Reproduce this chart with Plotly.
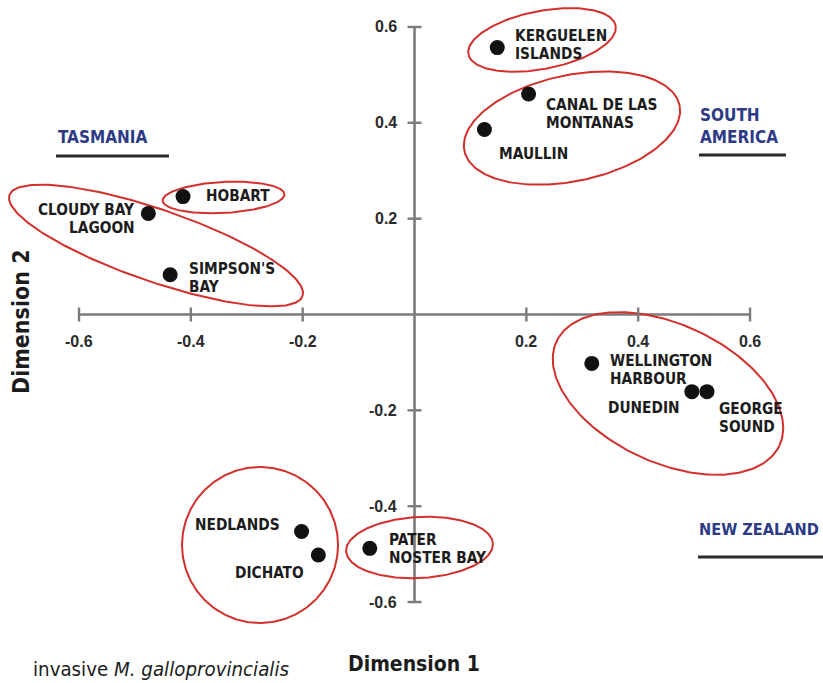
import numpy as np
import plotly.graph_objects as go

# --- MDS coordinates of the sampled mussel populations ---------------------
sites = ["KERGUELEN ISLANDS", "CANAL DE LAS MONTANAS", "MAULLIN", "HOBART",
         "CLOUDY BAY LAGOON", "SIMPSON'S BAY", "WELLINGTON HARBOUR", "DUNEDIN",
         "GEORGE SOUND", "NEDLANDS", "DICHATO", "PATER NOSTER BAY"]
dim1 = [0.148, 0.204, 0.125, -0.414, -0.476, -0.437, 0.317, 0.496, 0.523,
        -0.202, -0.172, -0.080]
dim2 = [0.557, 0.460, 0.386, 0.246, 0.211, 0.083, -0.102, -0.161, -0.161,
        -0.453, -0.502, -0.488]

# label text lines per site
label_lines = [["KERGUELEN", "ISLANDS"], ["CANAL DE LAS", "MONTANAS"], ["MAULLIN"],
               ["HOBART"], ["CLOUDY BAY", "LAGOON"], ["SIMPSON'S", "BAY"],
               ["WELLINGTON", "HARBOUR"], ["DUNEDIN"], ["GEORGE", "SOUND"],
               ["NEDLANDS"], ["DICHATO"], ["PATER", "NOSTER BAY"]]

ticks = [-0.6, -0.4, -0.2, 0.2, 0.4, 0.6]
tick_text = ["-0.6", "-0.4", "-0.2", "0.2", "0.4", "0.6"]

# --- figure geometry --------------------------------------------------------
W, H = 823, 683
XR = [-0.7413, 0.7305]
YR = [-0.769, 0.6563]
SX = W / (XR[1] - XR[0])   # px per data unit (x)
SY = H / (YR[1] - YR[0])   # px per data unit (y)

COND = "DejaVu Sans Condensed, Roboto, sans-serif"
LABEL_FONT = dict(family=COND, size=15.3, color="#1c1c1c")
LINE_H = 18
# label placement: (x offset px, anchor, first-line offset px downward)
label_place = [(16, "left", -12), (15, "left", 11), (13, "left", 24),
               (21, "left", -1), (-11, "right", -3), (17, "left", -6),
               (16, "left", -2), (-10, "right", 16), (10, "left", 17),
               (-20, "right", -7), (-12, "right", 18), (17, "left", -8)]

# group outlines: centre (data), semi-axes (px), rotation (deg, ccw)
groups = [
    (0.228, 0.573, 75, 29, 11),
    (0.2816, 0.389, 110, 53, 12),
    (-0.4623, 0.144, 155, 36, -19),
    (-0.3416, 0.2442, 61, 15.5, 3),
    (0.4533, -0.1648, 123, 69, -25),
    (-0.2763, -0.481, 78, 78, 0),
    (0.0089, -0.4862, 73.5, 30.5, 3),
]

AXIS_GREY = "#7b7b7b"
RED = "#d3302c"
NAVY = "#2d3a86"

fig = go.Figure()

# axes crossing at the origin
fig.add_trace(go.Scatter(x=[ticks[0], ticks[-1]], y=[0, 0], mode="lines",
                         line=dict(color=AXIS_GREY, width=2.6), hoverinfo="skip"))
fig.add_trace(go.Scatter(x=[0, 0], y=[ticks[0], ticks[-1]], mode="lines",
                         line=dict(color=AXIS_GREY, width=2.6), hoverinfo="skip"))
tl = 7
for t in ticks:
    fig.add_shape(type="line", x0=t, x1=t, y0=-tl / SY, y1=tl / SY,
                  line=dict(color=AXIS_GREY, width=2.4))
    fig.add_shape(type="line", x0=-tl / SX, x1=tl / SX, y0=t, y1=t,
                  line=dict(color=AXIS_GREY, width=2.4))

TICK_FONT = dict(family="Liberation Sans", size=16, color="#2a2a2a")
for t, s in zip(ticks, tick_text):
    fig.add_annotation(x=t, y=0, text="<b>%s</b>" % s, showarrow=False,
                       yshift=-27, xanchor="center", yanchor="middle", font=TICK_FONT)
    fig.add_annotation(x=0, y=t, text="<b>%s</b>" % s, showarrow=False,
                       xshift=-16, xanchor="right", yanchor="middle", font=TICK_FONT)

# group outlines
tt = np.linspace(0, 2 * np.pi, 240)
for cx, cy, a, b, ang in groups:
    th = np.deg2rad(ang)
    dx = a * np.cos(th) * np.cos(tt) - b * np.sin(th) * np.sin(tt)
    dy = a * np.sin(th) * np.cos(tt) + b * np.cos(th) * np.sin(tt)
    fig.add_trace(go.Scatter(x=cx + dx / SX, y=cy + dy / SY, mode="lines",
                             line=dict(color=RED, width=2), hoverinfo="skip"))

# populations
fig.add_trace(go.Scatter(x=dim1, y=dim2, mode="markers", text=sites,
                         marker=dict(size=15, color="#111111"),
                         hovertemplate="%{text}<extra></extra>"))

for x, y, lines, (ox, anc, oy) in zip(dim1, dim2, label_lines, label_place):
    for i, ln in enumerate(lines):
        fig.add_annotation(x=x, y=y, text="<b>%s</b>" % ln, showarrow=False,
                           xanchor=anc, yanchor="middle", xshift=ox,
                           yshift=-(oy + i * LINE_H), font=LABEL_FONT)

# region headings with underlines (paper coordinates)
def px(xp):
    return xp / W

def py(yp):
    return 1 - yp / H

REGION_FONT = dict(family=COND, size=17, color=NAVY)
fig.add_annotation(xref="paper", yref="paper", x=px(56), y=py(137), text="<b>TASMANIA</b>",
                   showarrow=False, xanchor="left", yanchor="middle", font=REGION_FONT)
fig.add_annotation(xref="paper", yref="paper", x=px(698), y=py(115), text="<b>SOUTH</b>",
                   showarrow=False, xanchor="left", yanchor="middle", font=REGION_FONT)
fig.add_annotation(xref="paper", yref="paper", x=px(698), y=py(137), text="<b>AMERICA</b>",
                   showarrow=False, xanchor="left", yanchor="middle", font=REGION_FONT)
fig.add_annotation(xref="paper", yref="paper", x=px(697), y=py(529), text="<b>NEW ZEALAND</b>",
                   showarrow=False, xanchor="left", yanchor="middle",
                   font=dict(family=COND, size=16.2, color=NAVY))
for x0, x1, yy in [(56, 169, 156), (699, 786, 155), (698, 823, 557)]:
    fig.add_shape(type="line", xref="paper", yref="paper", x0=px(x0), x1=px(x1),
                  y0=py(yy), y1=py(yy), line=dict(color="#2b2b2b", width=3))

# axis titles and caption
fig.add_annotation(xref="paper", yref="paper", x=px(414), y=py(664), text="<b>Dimension 1</b>",
                   showarrow=False, xanchor="center", yanchor="middle",
                   font=dict(family=COND, size=21, color="#1c1c1c"))
fig.add_annotation(xref="paper", yref="paper", x=px(21), y=py(322), text="<b>Dimension 2</b>",
                   showarrow=False, xanchor="center", yanchor="middle", textangle=-90,
                   font=dict(family=COND, size=23, color="#1c1c1c"))
fig.add_annotation(xref="paper", yref="paper", x=px(31), y=py(669),
                   text="invasive <i>M. galloprovincialis</i>",
                   showarrow=False, xanchor="left", yanchor="middle",
                   font=dict(family=COND, size=20.3, color="#1c1c1c"))

fig.update_layout(
    width=W, height=H, margin=dict(l=0, r=0, t=0, b=0),
    paper_bgcolor="white", plot_bgcolor="white", showlegend=False,
    xaxis=dict(range=XR, visible=False, fixedrange=True),
    yaxis=dict(range=YR, visible=False, fixedrange=True),
)

fig.write_html("out.html")
